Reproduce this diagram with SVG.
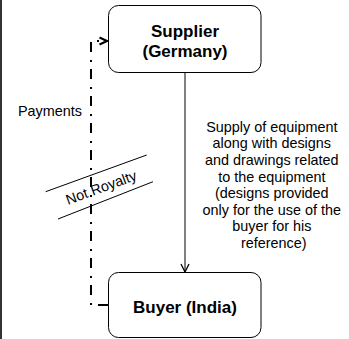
<svg xmlns="http://www.w3.org/2000/svg" width="349" height="339" viewBox="0 0 349 339">
<style>
.box{fill:#fff;stroke:#000;stroke-width:1}
.bold{font-family:"Liberation Sans",Arial,sans-serif;font-weight:bold;font-size:17px;fill:#000;text-anchor:middle}
.lbl{font-family:"Liberation Sans",Arial,sans-serif;font-size:14.4px;fill:#000}
.conn{fill:none;stroke:#000}
</style>
<defs>
<marker id="openArrow" viewBox="0 0 10 10" refX="9" refY="5" markerWidth="10" markerHeight="10" markerUnits="userSpaceOnUse" orient="auto">
<path d="M1,1 L9,5 L1,9" fill="none" stroke="#000" stroke-width="1.3"/>
</marker>
<marker id="boldArrow" viewBox="0 0 10 10" refX="9" refY="5" markerWidth="10" markerHeight="10" markerUnits="userSpaceOnUse" orient="auto">
<path d="M1.5,1.5 L9,5 L1.5,8.5" fill="none" stroke="#000" stroke-width="2.2"/>
</marker>
</defs>
<line x1="1" y1="0" x2="1" y2="339" stroke="#333" stroke-width="2"/>
<g id="connectors">
<line class="conn" x1="185" y1="72.5" x2="185" y2="272" stroke-width="1" marker-end="url(#openArrow)"/>
<path class="conn" d="M108,305 L91,305 L91,41 L107,41" stroke-width="2" stroke-dasharray="10 7 2 8" marker-end="url(#boldArrow)"/>
</g>
<g id="supplier">
<rect class="box" x="108.5" y="5.5" width="152.5" height="67" rx="10" ry="10"/>
<text class="bold" x="185" y="37">Supplier</text>
<text class="bold" x="185" y="57">(Germany)</text>
</g>
<g id="buyer">
<rect class="box" x="108.5" y="272.5" width="152.5" height="65" rx="10" ry="10"/>
<text class="bold" x="185" y="313">Buyer (India)</text>
</g>
<g id="payments-label">
<text class="lbl" x="82" y="116" text-anchor="end">Payments</text>
</g>
<g id="not-royalty">
<line x1="45.7" y1="191.7" x2="146.7" y2="155" stroke="#000" stroke-width="1"/>
<line x1="58" y1="219" x2="153" y2="181.7" stroke="#000" stroke-width="1"/>
<text class="lbl" x="101" y="192.5" text-anchor="middle" font-size="16" transform="rotate(-20 101 187)">Not Royalty</text>
</g>
<g id="supply-label">
<text class="lbl" text-anchor="middle">
<tspan x="273.8" y="131.7">Supply of equipment</tspan>
<tspan x="273.8" y="148.3">along with designs</tspan>
<tspan x="273.8" y="164.9">and drawings related</tspan>
<tspan x="273.8" y="181.5">to the equipment</tspan>
<tspan x="273.8" y="198.1">(designs provided</tspan>
<tspan x="273.8" y="214.7">only for the use of the</tspan>
<tspan x="273.8" y="231.3">buyer for his</tspan>
<tspan x="273.8" y="247.9">reference)</tspan>
</text>
</g>
</svg>
